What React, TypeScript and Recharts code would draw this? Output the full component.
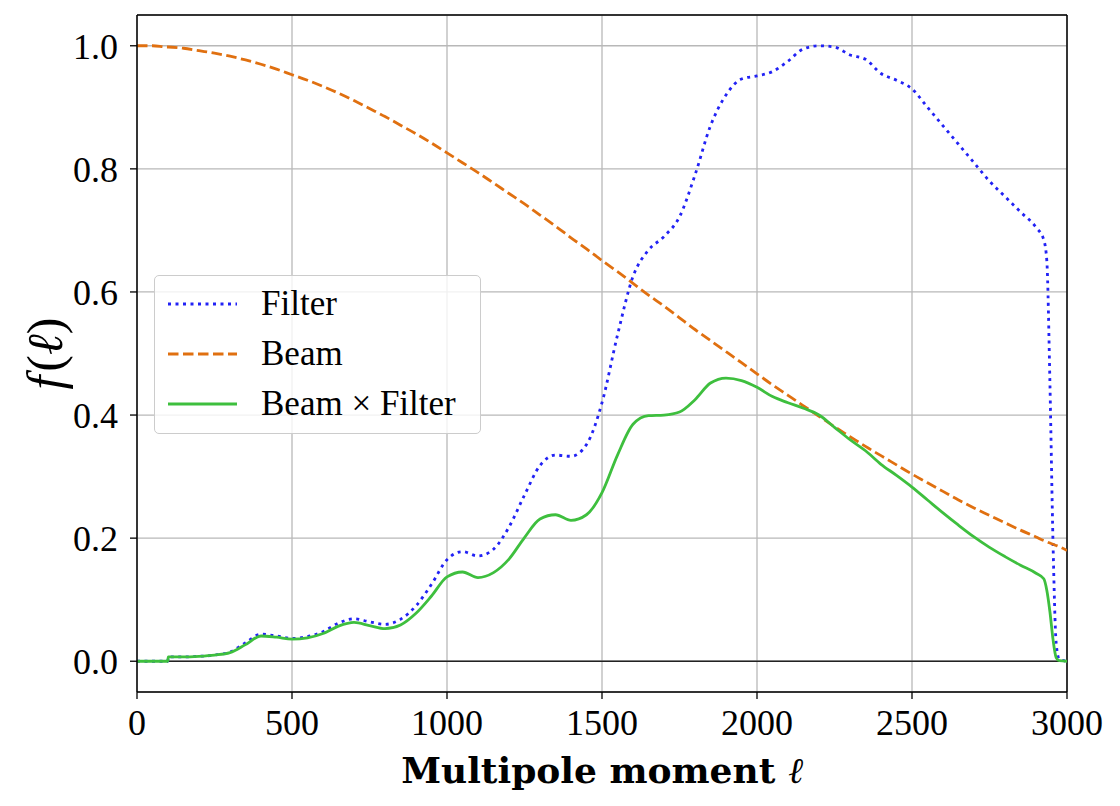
import {
  LineChart,
  Line,
  XAxis,
  YAxis,
  CartesianGrid,
  ReferenceLine,
} from "recharts";

const ELL = [
  0, 50, 99, 101, 150, 200, 250, 300, 350, 400, 450, 500, 550, 600, 650, 700,
  750, 800, 850, 900, 950, 1000, 1050, 1100, 1150, 1200, 1250, 1300, 1350,
  1400, 1450, 1500, 1550, 1600, 1650, 1700, 1750, 1800, 1850, 1900, 1950,
  2000, 2050, 2100, 2150, 2200, 2250, 2300, 2350, 2400, 2450, 2500, 2550,
  2600, 2650, 2700, 2750, 2800, 2850, 2900, 2925, 2935, 2945, 2955, 2965,
  2975, 3000,
];

const FILTER = [
  0, 0, 0, 0.007, 0.007, 0.008, 0.01, 0.015, 0.03, 0.044, 0.041, 0.037, 0.04,
  0.048, 0.062, 0.069, 0.064, 0.06, 0.068, 0.09, 0.125, 0.165, 0.178, 0.171,
  0.182, 0.218, 0.27, 0.318, 0.335, 0.333, 0.352, 0.42, 0.53, 0.625, 0.668,
  0.69, 0.722, 0.79, 0.87, 0.92, 0.946, 0.951, 0.958, 0.975, 0.995, 1.0, 0.998,
  0.985, 0.978, 0.955, 0.944, 0.93, 0.9, 0.87, 0.84, 0.81, 0.78, 0.755, 0.73,
  0.705, 0.685, 0.65, 0.45, 0.19, 0.03, 0.003, 0,
];

const BEAM = [
  1.0, 1.0, 0.998, 0.998, 0.996, 0.992, 0.988, 0.983, 0.977, 0.97, 0.962,
  0.953, 0.944, 0.934, 0.923, 0.911, 0.898, 0.885, 0.871, 0.857, 0.842, 0.826,
  0.81, 0.794, 0.777, 0.76, 0.743, 0.725, 0.707, 0.688, 0.67, 0.651, 0.633,
  0.614, 0.595, 0.577, 0.558, 0.539, 0.521, 0.503, 0.485, 0.467, 0.449, 0.432,
  0.415, 0.398, 0.381, 0.365, 0.349, 0.334, 0.319, 0.304, 0.29, 0.276, 0.262,
  0.249, 0.237, 0.225, 0.213, 0.202, 0.196, 0.194, 0.192, 0.19, 0.188, 0.186,
  0.18,
];

const BEAM_FILTER = [
  0, 0, 0, 0.007, 0.007, 0.008, 0.01, 0.014, 0.027, 0.041, 0.039, 0.036, 0.038,
  0.045, 0.057, 0.063, 0.058, 0.053, 0.059, 0.078, 0.106, 0.137, 0.145, 0.136,
  0.144, 0.166, 0.201, 0.231, 0.238, 0.229, 0.238, 0.274, 0.335, 0.385, 0.399,
  0.4, 0.405, 0.425, 0.452, 0.46, 0.456, 0.445, 0.43, 0.42, 0.411, 0.4, 0.38,
  0.36, 0.342, 0.32, 0.302, 0.283, 0.262, 0.241, 0.221, 0.202, 0.185, 0.17,
  0.156, 0.143, 0.134, 0.115, 0.08, 0.035, 0.006, 0.001, 0,
];

const X_TICKS = [0, 500, 1000, 1500, 2000, 2500, 3000];
const Y_TICKS = [0, 0.2, 0.4, 0.6, 0.8, 1.0];

const SERIES = [
  { key: "filter", name: "Filter", color: "#2222f5", dash: "3 4.5" },
  { key: "beam", name: "Beam", color: "#e07010", dash: "10.5 4.5" },
  { key: "product", name: "Beam × Filter", color: "#3ebf3e", dash: undefined },
];

const data = ELL.map((ell, i) => ({
  ell,
  filter: FILTER[i],
  beam: BEAM[i],
  product: BEAM_FILTER[i],
}));

const SERIF = "Liberation Serif";

function YLabel(props: any) {
  const vb = props.viewBox || { x: 0, y: 15, width: 137, height: 677 };
  const x = vb.x + 45;
  const y = vb.y + vb.height / 2;
  return (
    <text
      x={x}
      y={y}
      transform={`rotate(-90, ${x}, ${y})`}
      textAnchor="middle"
      dominantBaseline="central"
      fontFamily={SERIF}
      fontSize={50}
      fill="#000"
    >
      <tspan fontStyle="italic">f</tspan>
      <tspan dx={4}>(</tspan>
      <tspan fontStyle="italic">ℓ</tspan>
      <tspan>)</tspan>
    </text>
  );
}

function XLabel(props: any) {
  const vb = props.viewBox || { x: 137, y: 692, width: 930, height: 114 };
  return (
    <text
      x={vb.x + vb.width / 2}
      y={783}
      textAnchor="middle"
      fontFamily="DejaVu Serif"
      fontWeight="bold"
      fontSize={36}
      fill="#000"
    >
      Multipole moment{" "}
      <tspan fontWeight="normal" fontStyle="italic" fontFamily={SERIF}>
        ℓ
      </tspan>
    </text>
  );
}

function LegendBox() {
  return (
    <div
      style={{
        position: "absolute",
        left: 154,
        top: 275,
        width: 325,
        height: 157,
        border: "1.5px solid #cccccc",
        borderRadius: 5,
        background: "rgba(255,255,255,0.8)",
        fontFamily: SERIF,
        fontSize: 35,
        color: "#000",
      }}
    >
      {SERIES.map((s, i) => (
        <div
          key={s.key}
          style={{
            position: "absolute",
            left: 0,
            top: 28 + i * 50 - 20,
            height: 40,
            display: "flex",
            alignItems: "center",
            whiteSpace: "nowrap",
          }}
        >
          <svg width={106} height={40} style={{ display: "block" }}>
            <line
              x1={13}
              x2={82}
              y1={20}
              y2={20}
              stroke={s.color}
              strokeWidth={2.8}
              strokeDasharray={s.dash}
            />
          </svg>
          <span style={{ fontFamily: SERIF }}>{s.name}</span>
        </div>
      ))}
    </div>
  );
}

export default function App() {
  return (
    <div
      style={{
        position: "absolute",
        left: 0,
        top: 0,
        width: 1120,
        height: 806,
        background: "#fff",
      }}
    >
      <LineChart
        width={1120}
        height={806}
        data={data}
        margin={{ top: 15, right: 53, bottom: 0, left: 0 }}
      >
        <CartesianGrid stroke="#b8b8b8" strokeWidth={1.3} />
        <XAxis
          dataKey="ell"
          type="number"
          domain={[0, 3000]}
          ticks={X_TICKS}
          allowDataOverflow
          height={114}
          tickSize={7}
          tickMargin={10}
          stroke="#000"
          axisLine={{ stroke: "#000", strokeWidth: 1.5 }}
          tickLine={{ stroke: "#000", strokeWidth: 1.3 }}
          tick={{ fill: "#000", fontSize: 36, fontFamily: SERIF }}
          label={{ content: XLabel }}
        />
        <YAxis
          type="number"
          domain={[-0.05, 1.05]}
          ticks={Y_TICKS}
          allowDataOverflow
          width={137}
          tickSize={7}
          tickMargin={12}
          tickFormatter={(v: number) => v.toFixed(1)}
          axisLine={{ stroke: "#000", strokeWidth: 1.5 }}
          tickLine={{ stroke: "#000", strokeWidth: 1.3 }}
          tick={{ fill: "#000", fontSize: 36, fontFamily: SERIF }}
          label={{ content: YLabel }}
        />
        <ReferenceLine y={0} stroke="#222" strokeWidth={1.6} />
        <ReferenceLine y={1.05} stroke="#000" strokeWidth={1.5} />
        <ReferenceLine x={3000} stroke="#000" strokeWidth={1.5} />
        {SERIES.map((s) => (
          <Line
            key={s.key}
            dataKey={s.key}
            name={s.name}
            type="monotone"
            stroke={s.color}
            strokeWidth={2.8}
            strokeDasharray={s.dash}
            dot={false}
            activeDot={false}
            isAnimationActive={false}
          />
        ))}
      </LineChart>
      <LegendBox />
    </div>
  );
}
